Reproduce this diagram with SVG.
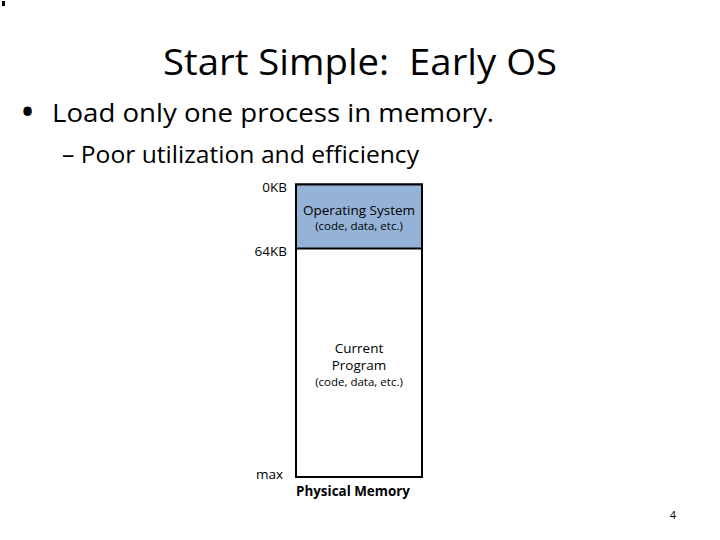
<svg xmlns="http://www.w3.org/2000/svg" width="720" height="540" viewBox="0 0 720 540">
<style>
text{font-family:"Open Sans","Liberation Sans",sans-serif;fill:#000}
.t{font-size:36px;white-space:pre}
.b1{font-size:26px}
.b2{font-size:23px}
.lab{font-size:13.5px}
.sm{font-size:11.5px}
.box{fill:#fff;stroke:#000;stroke-width:2}
.os{fill:#95b3d7;stroke:#000;stroke-width:2}
</style>
<rect width="720" height="540" fill="#fff"/>
<rect x="2" y="1" width="3" height="5" fill="#000"/>
<text class="t" x="360" y="75" text-anchor="middle" xml:space="preserve" textLength="394" lengthAdjust="spacingAndGlyphs">Start Simple:  Early OS</text>
<text x="20" y="126" font-size="40">•</text>
<text class="b1" x="52" y="122" textLength="442" lengthAdjust="spacingAndGlyphs">Load only one process in memory.</text>
<text class="b2" x="62" y="163" textLength="357" lengthAdjust="spacingAndGlyphs">– Poor utilization and efficiency</text>
<g id="memory">
<rect class="box" x="296" y="184.5" width="126" height="292.5"/>
</g>
<g id="os">
<rect class="os" x="296" y="184.5" width="126" height="64"/>
<text class="lab" x="359" y="215" text-anchor="middle">Operating System</text>
<text class="sm" x="359" y="230" text-anchor="middle">(code, data, etc.)</text>
</g>
<g id="program">
<text class="lab" x="359" y="353" text-anchor="middle">Current</text>
<text class="lab" x="359" y="370" text-anchor="middle">Program</text>
<text class="sm" x="359" y="386" text-anchor="middle">(code, data, etc.)</text>
</g>
<g id="labels">
<text class="lab" x="287" y="192" text-anchor="end">0KB</text>
<text class="lab" x="287" y="256" text-anchor="end">64KB</text>
<text class="lab" x="283" y="479" text-anchor="end">max</text>
<text class="lab" x="296" y="496" font-weight="bold" textLength="114" lengthAdjust="spacingAndGlyphs">Physical Memory</text>
</g>
<g id="connectors"></g>
<text x="673" y="519" font-size="11" text-anchor="middle">4</text>
</svg>
